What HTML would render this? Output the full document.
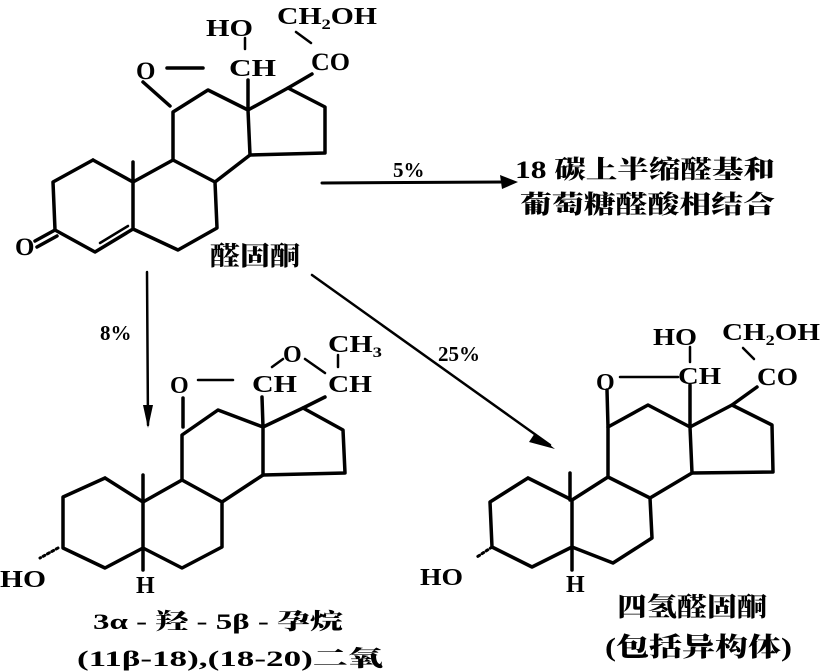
<!DOCTYPE html>
<html><head><meta charset="utf-8"><style>
html,body{margin:0;padding:0;background:#fff;}
svg{display:block;}
text{font-family:"Liberation Serif","Noto Serif CJK SC",serif;font-weight:bold;fill:#000;}
.c{font-family:"Liberation Serif","Noto Serif CJK SC","Noto Sans CJK SC",serif;font-weight:900;}
</style></head><body>
<svg width="822" height="672" viewBox="0 0 822 672" xmlns="http://www.w3.org/2000/svg">
<g stroke="#000" stroke-width="3.5" fill="none" stroke-linejoin="round" stroke-linecap="round">
<polyline points="93,160 133,182 133,229 95,252 55,230 53,182 93,160"/>
<line x1="100" y1="243" x2="128" y2="226" stroke-width="2.5"/>
<line x1="55" y1="230" x2="35" y2="241"/><line x1="57" y1="236" x2="37" y2="247"/>
<line x1="133" y1="182" x2="133" y2="162"/>
<polyline points="133,182 173,160 215,182 217,228 178,250 133,229"/>
<polyline points="173,160 173,112 208,90 248,110 250,155 215,182"/>
<polyline points="248,110 288,88 325,107 325,153 250,155"/>
<line x1="143" y1="82" x2="170" y2="106"/>
<line x1="167" y1="68" x2="203" y2="68"/>
<line x1="248" y1="80" x2="248" y2="110"/>
<line x1="245" y1="38" x2="245" y2="49" stroke-width="2.5"/>
<line x1="296" y1="32" x2="311" y2="43" stroke-width="2.5"/>
<line x1="288" y1="88" x2="312" y2="74"/>
<line x1="322" y1="183" x2="505" y2="182" stroke-width="3"/>
<line x1="147" y1="272" x2="148" y2="425" stroke-width="2.5"/>
<line x1="312" y1="275" x2="550" y2="445" stroke-width="2.5"/>
<polyline points="105,478 143,502 143,548 105,568 63,548 63,497 105,478"/>
<line x1="143" y1="502" x2="143" y2="475"/>
<line x1="143" y1="548" x2="143" y2="570"/>
<polyline points="143,502 182,480 222,502 222,547 182,568 143,548"/>
<polyline points="182,480 182,435 218,410 263,427 263,475 222,502"/>
<polyline points="263,427 303,408 343,430 345,473 263,475"/>
<line x1="183" y1="398" x2="183" y2="427"/>
<line x1="198" y1="380" x2="233" y2="380" stroke-width="2.5"/>
<line x1="262" y1="397" x2="263" y2="427"/>
<line x1="272" y1="367" x2="283" y2="359" stroke-width="2.5"/>
<line x1="305" y1="359" x2="325" y2="373" stroke-width="2.5"/>
<line x1="338" y1="355" x2="338" y2="367" stroke-width="2.5"/>
<line x1="303" y1="408" x2="325" y2="397"/>
<line x1="58" y1="548" x2="40" y2="558" stroke-dasharray="2 3" stroke-width="3"/>
<polyline points="528,478 572,500 572,547 532,567 492,547 490,502 528,478"/>
<line x1="570" y1="500" x2="570" y2="473"/>
<line x1="572" y1="547" x2="572" y2="570"/>
<polyline points="572,500 608,477 650,498 652,538 613,563 572,547"/>
<polyline points="608,477 608,427 648,405 690,427 692,473 650,498"/>
<polyline points="690,427 732,405 772,425 773,472 692,473"/>
<line x1="607" y1="390" x2="608" y2="427"/>
<line x1="620" y1="377" x2="678" y2="377" stroke-width="2.5"/>
<line x1="690" y1="385" x2="690" y2="427"/>
<line x1="690" y1="347" x2="690" y2="362" stroke-width="2.5"/>
<line x1="743" y1="348" x2="754" y2="359" stroke-width="2.5"/>
<line x1="732" y1="405" x2="757" y2="387"/>
<line x1="492" y1="547" x2="477" y2="557" stroke-dasharray="2 3" stroke-width="3"/>
</g>
<g fill="#000">
<polygon points="518,182 500,175 502,189"/>
<polygon points="148,428 143,405 153,405"/>
<polygon points="555,449 535,433 529,442"/>
</g>
<text x="136" y="79" font-size="25">O</text>
<text x="206" y="36" font-size="24" textLength="47" lengthAdjust="spacingAndGlyphs">HO</text>
<text x="229" y="76" font-size="24" textLength="47" lengthAdjust="spacingAndGlyphs">CH</text>
<text x="277" y="24" font-size="24" textLength="100" lengthAdjust="spacingAndGlyphs">CH<tspan font-size="15" dy="5">2</tspan><tspan dy="-5">OH</tspan></text>
<text x="311" y="70" font-size="25" textLength="39" lengthAdjust="spacingAndGlyphs">CO</text>
<text x="15" y="255" font-size="25">O</text>
<text class="c" x="210" y="265" font-size="26" textLength="90" lengthAdjust="spacingAndGlyphs">醛固酮</text>
<text x="393" y="177" font-size="21">5%</text>
<text class="c" x="515" y="178" font-size="25" textLength="260" lengthAdjust="spacingAndGlyphs">18 碳上半缩醛基和</text>
<text class="c" x="520" y="213" font-size="25" textLength="255" lengthAdjust="spacingAndGlyphs">葡萄糖醛酸相结合</text>
<text x="100" y="340" font-size="21">8%</text>
<text x="438" y="361" font-size="21">25%</text>
<text x="170" y="393" font-size="24">O</text>
<text x="252" y="392" font-size="24" textLength="45" lengthAdjust="spacingAndGlyphs">CH</text>
<text x="283" y="362" font-size="24">O</text>
<text x="328" y="352" font-size="24" textLength="54" lengthAdjust="spacingAndGlyphs">CH<tspan font-size="15" dy="5">3</tspan></text>
<text x="328" y="392" font-size="24" textLength="44" lengthAdjust="spacingAndGlyphs">CH</text>
<text x="0" y="587" font-size="24" textLength="46" lengthAdjust="spacingAndGlyphs">HO</text>
<text x="136" y="593" font-size="24">H</text>
<text class="c" x="93" y="629" font-size="22" textLength="250" lengthAdjust="spacingAndGlyphs">3α - 羟 - 5β - 孕烷</text>
<text class="c" x="77" y="666" font-size="22" textLength="306" lengthAdjust="spacingAndGlyphs">(11β-18),(18-20)二氧</text>
<text x="596" y="390" font-size="24">O</text>
<text x="678" y="384" font-size="24" textLength="43" lengthAdjust="spacingAndGlyphs">CH</text>
<text x="653" y="345" font-size="24" textLength="44" lengthAdjust="spacingAndGlyphs">HO</text>
<text x="722" y="340" font-size="24" textLength="98" lengthAdjust="spacingAndGlyphs">CH<tspan font-size="15" dy="5">2</tspan><tspan dy="-5">OH</tspan></text>
<text x="757" y="385" font-size="25" textLength="41" lengthAdjust="spacingAndGlyphs">CO</text>
<text x="420" y="585" font-size="24" textLength="43" lengthAdjust="spacingAndGlyphs">HO</text>
<text x="566" y="592" font-size="24">H</text>
<text class="c" x="617" y="616" font-size="26" textLength="150" lengthAdjust="spacingAndGlyphs">四氢醛固酮</text>
<text class="c" x="605" y="656" font-size="26" textLength="187" lengthAdjust="spacingAndGlyphs">(包括异构体)</text>
</svg>
</body></html>
